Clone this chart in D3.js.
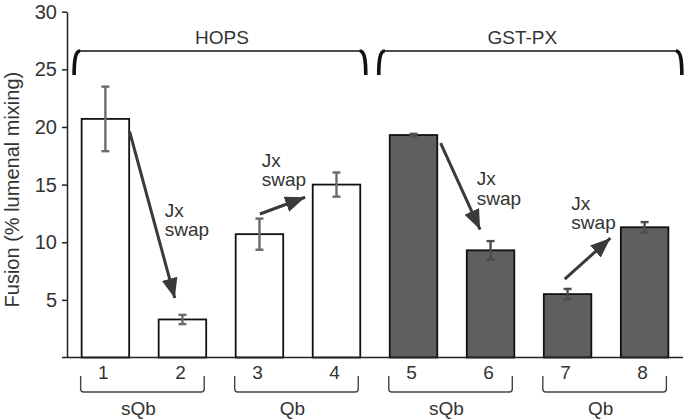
<!DOCTYPE html>
<html>
<head>
<meta charset="utf-8">
<script src="https://cdn.jsdelivr.net/npm/d3@7"></script>
<style>
  html, body { margin: 0; padding: 0; background: #fff; }
  svg { display: block; font-family: "Liberation Sans", Arial, Helvetica, sans-serif; }
</style>
</head>
<body>
<svg id="chart" width="687" height="420"></svg>
<script>
// ---- data ----
const categories = ["1", "2", "3", "4", "5", "6", "7", "8"];
const values     = [20.7, 3.3, 10.7, 15.0, 19.3, 9.3, 5.5, 11.3];
const errors     = [2.8, 0.4, 1.35, 1.05, 0.1, 0.8, 0.45, 0.45];
const treatment  = ["HOPS", "HOPS", "HOPS", "HOPS", "GST-PX", "GST-PX", "GST-PX", "GST-PX"];
const snare      = ["sQb", "sQb", "Qb", "Qb", "sQb", "sQb", "Qb", "Qb"];
const treatmentGroups = ["HOPS", "GST-PX"];
const yTicks = [5, 10, 15, 20, 25, 30];
const yLabel = "Fusion (% lumenal mixing)";
// arrows: [category, fraction across band, value]
const arrowFrom = [["1", 1.01, 19.6], ["3", 0.51, 12.45], ["5", 1.07, 18.6], ["7", 0.44, 6.8]];
const arrowTo   = [["2", 0.34, 5.15], ["3", 1.46, 13.9], ["6", 0.28, 11.1], ["7", 1.40, 10.35]];
const arrowText = [["2", 0.13, 12.2], ["3", 0.55, 16.55], ["6", 0.21, 14.95], ["7", 0.58, 12.8]];
const arrowLines = ["Jx", "swap"];

// ---- layout ----
const svg = d3.select("#chart");
const x = d3.scaleBand().domain(categories).range([67, 683]).paddingInner(0.383).paddingOuter(0.19);
const y = d3.scaleLinear().domain([0, 30]).range([357.5, 11.7]);
const bw = x.bandwidth();
const textColor = "#333";

const fillFor = t => t === "HOPS" ? "#ffffff" : "#5f5f5f";
const errFor = t => t === "HOPS" ? "#6b6b6b" : "#4c4c4c";

const data = categories.map((c, i) => ({ c, v: values[i], e: errors[i], t: treatment[i], s: snare[i] }));

// bars
svg.append("g").selectAll("rect").data(data).join("rect")
  .attr("x", d => x(d.c))
  .attr("y", d => y(d.v))
  .attr("width", bw)
  .attr("height", d => y(0) - y(d.v))
  .attr("fill", d => fillFor(d.t))
  .attr("stroke", "#111")
  .attr("stroke-width", 1.8);

// error bars
const eg = svg.append("g").selectAll("g").data(data).join("g")
  .attr("stroke", d => errFor(d.t)).attr("stroke-width", 2.4);
eg.append("line")
  .attr("x1", d => x(d.c) + bw / 2).attr("x2", d => x(d.c) + bw / 2)
  .attr("y1", d => y(d.v + d.e)).attr("y2", d => y(d.v - d.e));
eg.append("line")
  .attr("x1", d => x(d.c) + bw / 2 - 4).attr("x2", d => x(d.c) + bw / 2 + 4)
  .attr("y1", d => y(d.v + d.e)).attr("y2", d => y(d.v + d.e));
eg.append("line")
  .attr("x1", d => x(d.c) + bw / 2 - 4).attr("x2", d => x(d.c) + bw / 2 + 4)
  .attr("y1", d => y(d.v - d.e)).attr("y2", d => y(d.v - d.e));

// y axis
const yAxis = d3.axisLeft(y).tickValues(yTicks).tickSize(5).tickPadding(5).tickSizeOuter(0);
const ga = svg.append("g").attr("transform", "translate(67,0)").call(yAxis);
ga.select(".domain").attr("stroke", "#222").attr("stroke-width", 1.5);
ga.selectAll(".tick line").attr("stroke", "#222").attr("stroke-width", 1.5);
ga.selectAll(".tick text").attr("fill", textColor).style("font-size", "20px")
  .style("font-family", "'Liberation Sans', Arial, sans-serif");

// baseline
svg.append("line").attr("x1", 62).attr("x2", 683).attr("y1", y(0)).attr("y2", y(0))
  .attr("stroke", "#222").attr("stroke-width", 1.6);

// y label
svg.append("text")
  .attr("transform", `translate(19,${(y(0) + y(30)) / 2 + 5}) rotate(-90)`)
  .attr("text-anchor", "middle").attr("fill", textColor).style("font-size", "20px")
  .text(yLabel);

// category numbers
svg.append("g").selectAll("text").data(categories).join("text")
  .attr("x", c => x(c) + bw / 2 - 2).attr("y", 379)
  .attr("text-anchor", "middle").attr("fill", textColor).style("font-size", "19px")
  .text(c => c);

// bottom brackets (sQb / Qb)
const pairs = d3.range(0, categories.length, 2).map(i => ({
  a: categories[i], b: categories[i + 1], label: snare[i]
}));
const bb = svg.append("g");
pairs.forEach(p => {
  const x0 = x(p.a) - 1, x1 = x(p.b) + bw - 2, yb = 392, yt = 376;
  bb.append("path")
    .attr("d", `M${x0},${yt} L${x0},${yb - 3} Q${x0},${yb} ${x0 + 3},${yb} L${x1 - 3},${yb} Q${x1},${yb} ${x1},${yb - 3} L${x1},${yt}`)
    .attr("fill", "none").attr("stroke", "#444").attr("stroke-width", 1.4);
  bb.append("text")
    .attr("x", (x0 + x1) / 2 - 4).attr("y", 415)
    .attr("text-anchor", "middle").attr("fill", textColor).style("font-size", "19px")
    .text(p.label);
});

// top braces (HOPS / GST-PX)
const tb = svg.append("g");
treatmentGroups.forEach((g, gi) => {
  const cats = categories.filter((c, i) => treatment[i] === g);
  const x0 = gi === 0 ? x(cats[0]) - 7.5 : x(cats[0]) - 11;
  const x1 = gi === 0 ? x(cats[cats.length - 1]) + bw + 5.5 : x(cats[cats.length - 1]) + bw + 13.5;
  const yh = 51, yb = 75;
  tb.append("path")
    .attr("d", `M${x0 + 5},${yh} L${x1 - 5},${yh}`)
    .attr("stroke", "#111").attr("stroke-width", 1.6).attr("fill", "none");
  tb.append("path")
    .attr("d", `M${x0},${yb} C${x0},${yh + 10} ${x0 + 1},${yh} ${x0 + 6},${yh}`)
    .attr("stroke", "#111").attr("stroke-width", 3.6).attr("fill", "none");
  tb.append("path")
    .attr("d", `M${x1},${yb} C${x1},${yh + 10} ${x1 - 1},${yh} ${x1 - 6},${yh}`)
    .attr("stroke", "#111").attr("stroke-width", 3.6).attr("fill", "none");
  tb.append("text")
    .attr("x", (x0 + x1) / 2 + (gi === 0 ? 2 : -8)).attr("y", 44)
    .attr("text-anchor", "middle").attr("fill", textColor).style("font-size", "19px")
    .text(g);
});

// arrows
svg.append("defs").append("marker")
  .attr("id", "ah").attr("viewBox", "0 0 20 16").attr("refX", 20).attr("refY", 8)
  .attr("markerUnits", "userSpaceOnUse").attr("markerWidth", 20).attr("markerHeight", 16)
  .attr("orient", "auto")
  .append("path").attr("d", "M0,0 L20,8 L0,16 Z").attr("fill", "#3a3a3a");

const px = p => x(p[0]) + p[1] * bw;
const py = p => y(p[2]);
const ag = svg.append("g");
arrowFrom.forEach((f, i) => {
  const t = arrowTo[i];
  ag.append("line")
    .attr("x1", px(f)).attr("y1", py(f)).attr("x2", px(t)).attr("y2", py(t))
    .attr("stroke", "#3a3a3a").attr("stroke-width", 3)
    .attr("marker-end", "url(#ah)");
  const tp = arrowText[i];
  const tx = ag.append("text").attr("fill", textColor).style("font-size", "19px");
  arrowLines.forEach((l, k) => {
    tx.append("tspan").attr("x", px(tp)).attr("y", py(tp) + k * 19.5).text(l);
  });
});
</script>
</body>
</html>
